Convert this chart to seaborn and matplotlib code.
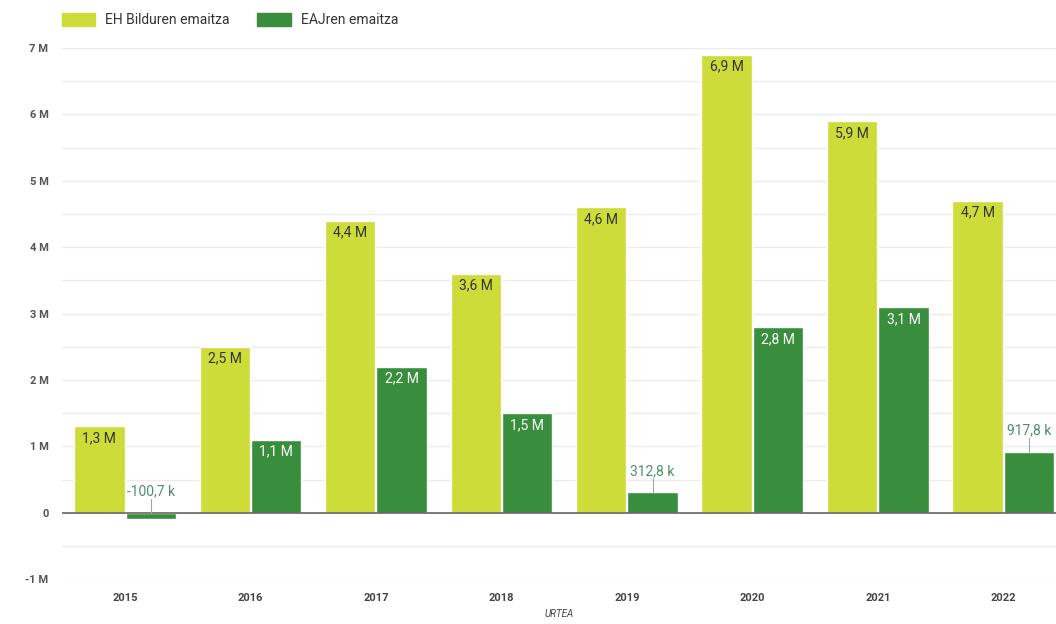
import matplotlib
matplotlib.use("Agg")
import matplotlib.pyplot as plt
from matplotlib.ticker import MultipleLocator, FuncFormatter
import seaborn as sns
import pandas as pd

years = ["2015", "2016", "2017", "2018", "2019", "2020", "2021", "2022"]
ehbildu = [1.3, 2.5, 4.4, 3.6, 4.6, 6.9, 5.9, 4.7]
eaj = [-0.1007, 1.1, 2.2, 1.5, 0.3128, 2.8, 3.1, 0.9178]
series = ["EH Bilduren emaitza", "EAJren emaitza"]
colors = ["#cddc39", "#388e3c"]

df = pd.DataFrame({
    "urtea": years * 2,
    "balioa": ehbildu + eaj,
    "serie": [series[0]] * len(years) + [series[1]] * len(years),
})

sns.set_style("white")
plt.rcParams["font.family"] = ["Roboto", "DejaVu Sans"]

fig = plt.figure(figsize=(10.56, 6.24), dpi=100)
ax = fig.add_axes([0.059, 0.072, 0.941, 0.851])

sns.barplot(data=df, x="urtea", y="balioa", hue="serie", palette=colors,
            width=0.82, gap=0.02, ax=ax, legend=False, saturation=1)

ax.set_ylim(-1, 7)
ax.set_xlim(-0.5, 7.42)
ax.yaxis.set_major_locator(MultipleLocator(1))
ax.yaxis.set_minor_locator(MultipleLocator(0.5))
ax.yaxis.set_major_formatter(FuncFormatter(lambda v, p: "0" if v == 0 else f"{int(v)} M"))
ax.grid(axis="y", which="both", color="#ebebeb", linewidth=1)
ax.set_axisbelow(True)
ax.axhline(0, color="#666666", linewidth=1.2, zorder=3)
for s in ax.spines.values():
    s.set_visible(False)
ax.tick_params(axis="both", which="both", length=0)
ax.tick_params(axis="y", pad=10, labelsize=8, labelcolor="#555555")
ax.tick_params(axis="x", pad=10, labelsize=8, labelcolor="#444444")
for t in ax.get_xticklabels() + ax.get_yticklabels():
    t.set_fontweight("bold")
ax.set_ylabel("")
ax.set_xlabel("URTEA", fontsize=7, style="italic", color="#444444", labelpad=4)


def fmt(v):
    if abs(v) >= 1:
        return f"{v:.1f} M".replace(".", ",")
    return f"{v * 1000:.1f} k".replace(".", ",")


label_colors = ["#333333", "#ffffff"]
px = 8 / (0.851 * 624)  # data units per pixel
for i, cont in enumerate(ax.containers):
    vals = [ehbildu, eaj][i]
    for bar, v in zip(cont, vals):
        cx = bar.get_x() + bar.get_width() / 2
        if abs(v) >= 1:
            ax.text(cx, v - 5 * px, fmt(v), ha="center", va="top", fontsize=10,
                    color=label_colors[i], zorder=5)
        else:
            top = max(v, 0)
            ax.plot([cx, cx], [top, top + 14 * px], color="#9aa8a0", linewidth=0.8, zorder=4)
            ax.text(cx, top + 14 * px, fmt(v), ha="center", va="bottom", fontsize=10,
                    color="#4f8f6a", zorder=5)

handles = [plt.Rectangle((0, 0), 1, 1, color=c) for c in colors]
fig.legend(handles, series, loc="upper left", bbox_to_anchor=(0.047, 1.0), ncol=2,
           frameon=False, fontsize=10, handlelength=2.4, handleheight=1.1,
           handletextpad=0.7, columnspacing=2.0, labelcolor="#333333")

fig.savefig("out.png", dpi=100)
